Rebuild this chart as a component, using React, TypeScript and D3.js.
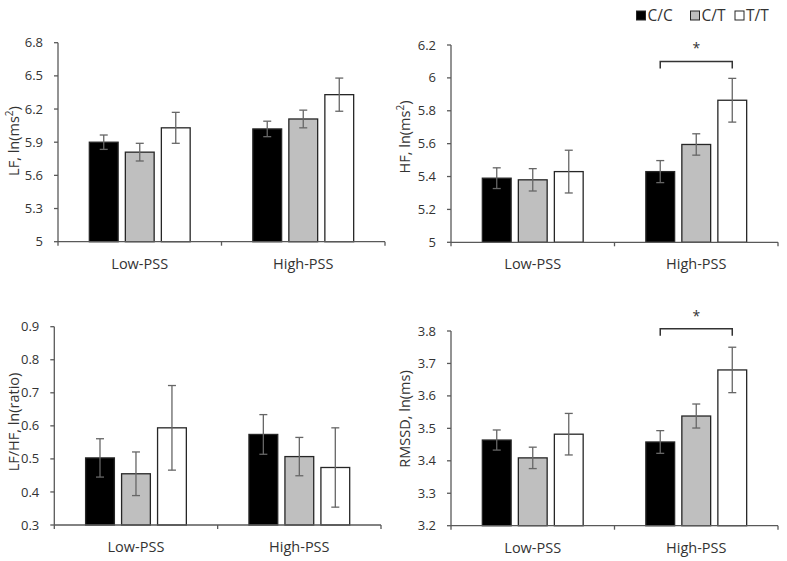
import React from "react";
import * as d3 from "d3";

const groups = ["Low-PSS", "High-PSS"];
const genotypes = ["C/C", "C/T", "T/T"];
const genotypeFill = ["#000000", "#bfbfbf", "#ffffff"];

const lfMean = [[5.9, 5.81, 6.03], [6.02, 6.11, 6.33]];
const lfErr = [[0.065, 0.08, 0.14], [0.07, 0.08, 0.15]];
const hfMean = [[5.39, 5.38, 5.43], [5.43, 5.595, 5.864]];
const hfErr = [[0.063, 0.068, 0.13], [0.067, 0.065, 0.133]];
const ratioMean = [[0.503, 0.455, 0.594], [0.574, 0.507, 0.474]];
const ratioErr = [[0.058, 0.066, 0.128], [0.06, 0.058, 0.12]];
const rmssdMean = [[3.464, 3.409, 3.482], [3.458, 3.538, 3.68]];
const rmssdErr = [[0.031, 0.033, 0.064], [0.035, 0.037, 0.07]];

const lfTicks = ["5", "5.3", "5.6", "5.9", "6.2", "6.5", "6.8"];
const hfTicks = ["5", "5.2", "5.4", "5.6", "5.8", "6", "6.2"];
const ratioTicks = ["0.3", "0.4", "0.5", "0.6", "0.7", "0.8", "0.9"];
const rmssdTicks = ["3.2", "3.3", "3.4", "3.5", "3.6", "3.7", "3.8"];

// significance brackets: [group index, from genotype, to genotype, level]
const hfSig = [[1, 0, 2, 6.1]];
const rmssdSig = [[1, 0, 2, 3.807]];

const FONT = "'Open Sans', 'Liberation Sans', sans-serif";
const TEXT = "#333333";
const AXIS = "#595959";

type PanelProps = {
  left: number; right: number; top: number; bottom: number;
  ticks: string[]; means: number[][]; errs: number[][];
  title: React.ReactNode; titleX: number; titleY: number;
  sig?: number[][];
};

function Panel(p: PanelProps) {
  const tv = p.ticks.map(Number);
  const y = d3.scaleLinear().domain([tv[0], tv[tv.length - 1]]).range([p.bottom, p.top]);
  const x0 = d3.scaleBand<string>().domain(groups).range([p.left, p.right]).paddingInner(0).paddingOuter(0);
  const x1 = d3.scaleBand<string>().domain(genotypes).range([0, x0.bandwidth()]).paddingInner(0.2).paddingOuter(0.87);
  const cx = (gi: number, k: number) => (x0(groups[gi]) as number) + (x1(genotypes[k]) as number) + x1.bandwidth() / 2;
  return (
    <g>
      {/* y axis */}
      <line x1={p.left} x2={p.left} y1={p.top} y2={p.bottom} stroke={AXIS} strokeWidth={1.3} />
      {tv.map((t, i) => (
        <g key={i}>
          <line x1={p.left - 4} x2={p.left} y1={y(t)} y2={y(t)} stroke={AXIS} strokeWidth={1.3} />
          <text x={p.left - 15} y={y(t)} dy="0.35em" textAnchor="end" fontSize={13} fill={TEXT} fontFamily={FONT}>{p.ticks[i]}</text>
        </g>
      ))}
      {/* bars */}
      {groups.map((g, gi) => genotypes.map((gt, k) => {
        const xx = (x0(g) as number) + (x1(gt) as number);
        const v = p.means[gi][k];
        const e = p.errs[gi][k];
        const c = cx(gi, k);
        return (
          <g key={g + gt}>
            <rect x={xx} y={y(v)} width={x1.bandwidth()} height={p.bottom - y(v)} fill={genotypeFill[k]} stroke="#262626" strokeWidth={1.3} />
            <line x1={c} x2={c} y1={y(v + e)} y2={y(v - e)} stroke="#666" strokeWidth={1.3} />
            <line x1={c - 4} x2={c + 4} y1={y(v + e)} y2={y(v + e)} stroke="#666" strokeWidth={1.3} />
            <line x1={c - 4} x2={c + 4} y1={y(v - e)} y2={y(v - e)} stroke="#666" strokeWidth={1.3} />
          </g>
        );
      }))}
      {/* x axis */}
      <line x1={p.left} x2={p.right} y1={p.bottom} y2={p.bottom} stroke={AXIS} strokeWidth={1.3} />
      {[p.left, (x0(groups[1]) as number), p.right].map((xx, i) => (
        <line key={i} x1={xx} x2={xx} y1={p.bottom} y2={p.bottom + 4} stroke={AXIS} strokeWidth={1.3} />
      ))}
      {groups.map((g) => (
        <text key={g} x={(x0(g) as number) + x0.bandwidth() / 2} y={p.bottom + 27} textAnchor="middle" fontSize={14.5} fill={TEXT} fontFamily={FONT}>{g}</text>
      ))}
      {/* significance */}
      {(p.sig || []).map((s, i) => {
        const xa = cx(s[0], s[1]);
        const xb = cx(s[0], s[2]);
        const yy = y(s[3]);
        return (
          <g key={i}>
            <path d={`M${xa},${yy + 7}V${yy}H${xb}V${yy + 7}`} fill="none" stroke="#333" strokeWidth={1.5} />
            <text x={(xa + xb) / 2} y={yy - 8} textAnchor="middle" fontSize={14} fill={TEXT} fontFamily={FONT}>*</text>
          </g>
        );
      })}
      {/* y title */}
      <text transform={`translate(${p.titleX},${p.titleY}) rotate(-90)`} textAnchor="middle" dy="0.35em" fontSize={14.5} fill={TEXT} fontFamily={FONT}>{p.title}</text>
    </g>
  );
}

function MsSq({ label }: { label: string }) {
  return (
    <>
      {label}, ln(ms<tspan fontSize={10} dy={-6}>2</tspan><tspan dy={6}>)</tspan>
    </>
  );
}

export default function App() {
  const legendX = [636.5, 690.5, 735];
  return (
    <svg width={787} height={561} style={{ position: "absolute", left: 0, top: 0, background: "#fff" }}>
      <rect width={787} height={561} fill="#fff" />
      <Panel left={58} right={385} top={42.7} bottom={241.7} ticks={lfTicks} means={lfMean} errs={lfErr}
        title={<MsSq label="LF" />} titleX={14} titleY={141} />
      <Panel left={451} right={778} top={45} bottom={242.3} ticks={hfTicks} means={hfMean} errs={hfErr}
        title={<MsSq label="HF" />} titleX={405} titleY={137} sig={hfSig} />
      <Panel left={54.3} right={381} top={326.7} bottom={525} ticks={ratioTicks} means={ratioMean} errs={ratioErr}
        title="LF/HF, ln(ratio)" titleX={14} titleY={422} />
      <Panel left={451} right={778} top={331} bottom={525.7} ticks={rmssdTicks} means={rmssdMean} errs={rmssdErr}
        title="RMSSD, ln(ms)" titleX={405} titleY={419} sig={rmssdSig} />
      {genotypes.map((g, i) => (
        <g key={g}>
          <rect x={legendX[i]} y={11} width={9} height={9} fill={genotypeFill[i]} stroke="#262626" strokeWidth={1} />
          <text x={legendX[i] + 11} y={21} fontSize={15.5} fill={TEXT} fontFamily={FONT}>{g}</text>
        </g>
      ))}
    </svg>
  );
}
